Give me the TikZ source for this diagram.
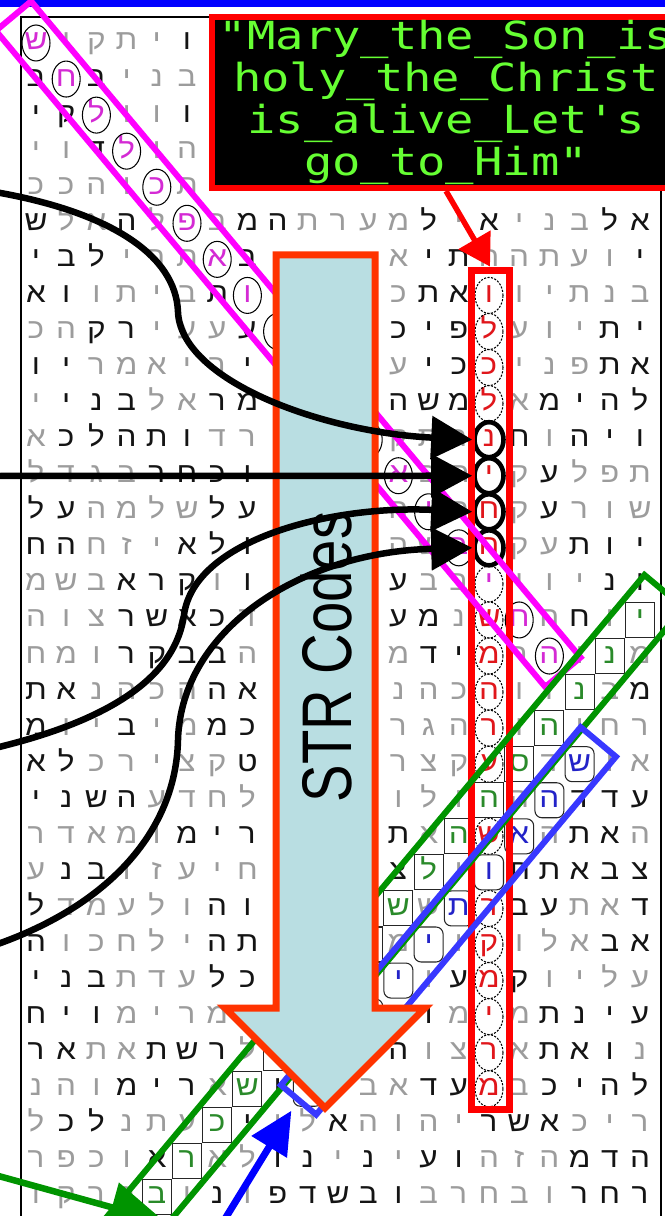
\documentclass[tikz,border=0pt]{standalone}
\usepackage{fontspec}
\usepackage{xcolor}
\usepackage{tikz}
\usetikzlibrary{arrows.meta,shapes.geometric}
\newfontfamily\hebfont[Script=Hebrew,FakeStretch=1.12]{Liberation Sans}
\newfontfamily\quotefont[FakeStretch=1.22,Ligatures=ResetAll]{DejaVu Sans Mono}
\newfontfamily\strfont[FakeStretch=0.8]{Liberation Sans}
\definecolor{inkBlack}{HTML}{141414}
\definecolor{inkGrey}{HTML}{9C9C9C}
\definecolor{codeMagenta}{HTML}{D42AD4}
\definecolor{codeRed}{HTML}{E0161B}
\definecolor{codeGreen}{HTML}{2A8A2A}
\definecolor{codeBlue}{HTML}{2323C8}
\definecolor{frameMagenta}{HTML}{FF00FF}
\definecolor{frameRed}{HTML}{FF0000}
\definecolor{frameGreen}{HTML}{009400}
\definecolor{frameBlue}{HTML}{3838FF}
\definecolor{arrowBlue}{HTML}{0000FF}
\definecolor{strFill}{HTML}{B9DEE2}
\definecolor{strLine}{HTML}{FF3300}
\definecolor{quoteGreen}{HTML}{66FF33}
\definecolor{topBar}{HTML}{0000FF}
\tikzset{
  heb/.style={font=\hebfont\fontsize{16}{16}\selectfont, inner sep=0pt, anchor=base},
  hebk/.style={heb, text=inkBlack},
  hebg/.style={heb, text=inkGrey},
  hebm/.style={heb, text=codeMagenta},
  hebr/.style={heb, text=codeRed},
  hebe/.style={heb, text=codeGreen},
  hebu/.style={heb, text=codeBlue},
  % --- marks round the code letters ---
  ringthin/.style={ellipse, draw=black, line width=0.6pt, minimum width=0.56cm, minimum height=0.72cm, inner sep=0pt},
  ringdot/.style={ringthin, dash pattern=on 1.2pt off 0.8pt},
  ringbold/.style={ellipse, draw=black, line width=2.6pt, minimum width=0.58cm, minimum height=0.7cm, inner sep=0pt},
  cellbox/.style={rectangle, draw=black!85, line width=0.6pt, minimum width=0.58cm, minimum height=0.7cm, inner sep=0pt},
  cellround/.style={cellbox, rounded corners=4pt},
  % --- frames and arrows ---
  gridframe/.style={draw=black, line width=0.6pt},
  codeframe/.style={rectangle, draw=#1, line width=0.12cm, inner sep=0pt},
  strarrow/.style={draw=strLine, fill=strFill, line width=0.14cm},
  strlabel/.style={font=\strfont\fontsize{40}{40}\selectfont, text=black, inner sep=0pt},
  codearrow/.style={-{Triangle[length=0.82cm,width=0.84cm]}, line width=0.13cm, draw=black},
  pointarrow/.style={-{Triangle[length=0.62cm,width=0.72cm]}, line width=0.11cm, draw=frameRed},
  bluearrow/.style={-{Triangle[length=0.85cm,width=0.8cm]}, line width=0.14cm, draw=arrowBlue},
  greenarrow/.style={-{Triangle[length=1.1cm,width=1.0cm]}, line width=0.13cm, draw=frameGreen},
  quotebox/.style={rectangle, draw=frameRed, fill=black, line width=0.12cm, minimum width=9.36cm, minimum height=3.42cm, inner sep=0pt, align=center, text=quoteGreen, font=\quotefont\fontsize{22}{24}\selectfont},
}
\newcommand{\hebrow}[2]{%
  \foreach \ch/\sh [count=\c from 0] in {#2}
    \node[heb\sh] (h-#1-\c) at ({36+30.2*\c},{50+36.06*#1}) {\ch};}

\begin{document}
\begin{tikzpicture}[x=0.02cm,y=-0.02cm]
  \useasboundingbox (0,0) rectangle (665,1216);
  \fill[white] (0,0) rectangle (665,1216);
  \fill[topBar] (0,0) rectangle (665,7);
  \draw[gridframe] (21,1230) -- (21,17) -- (661,17) -- (661,1230);

  % letter grid
  \hebrow{0}{ש/m,י/g,ק/g,ת/g,י/g,ו/k}
  \hebrow{1}{ב/k,ח/m,ב/k,י/g,נ/g,ב/g}
  \hebrow{2}{י/k,ק/k,ל/m,ו/g,ו/g,ו/k}
  \hebrow{3}{י/g,ו/g,ד/k,ל/m,ו/g,ה/g}
  \hebrow{4}{כ/g,כ/g,ה/g,ו/g,כ/m,ת/g}
  \hebrow{5}{ש/k,ל/g,א/g,ה/k,ל/g,פ/m,ב/g,מ/k,ה/k,ת/g,ר/g,ע/g,מ/g,ל/k,י/g,א/k,י/g,נ/g,ב/g,ל/k,א/k}
  \hebrow{6}{י/k,ב/k,ל/k,י/g,ר/g,ת/g,א/m,ב/k,{}/g,{}/g,{}/g,{}/g,א/g,י/k,ת/k,ח/g,ה/g,ת/g,ע/g,ו/g,י/k}
  \hebrow{7}{א/k,ו/k,ו/g,ת/g,י/g,ב/g,ת/k,ו/m,{}/g,{}/g,{}/g,{}/g,כ/g,ת/k,א/k,ו/r,ו/g,י/g,ת/g,נ/g,ב/g}
  \hebrow{8}{כ/g,ה/g,ק/k,ר/k,י/g,ע/g,ע/g,ע/k,{}/g,{}/g,{}/g,{}/g,כ/k,י/k,פ/k,ל/r,ע/g,ו/g,י/g,ת/k,י/k}
  \hebrow{9}{ו/k,י/k,ר/g,מ/g,א/g,י/g,ר/g,י/k,{}/g,{}/g,{}/g,{}/g,ע/g,י/k,כ/k,כ/r,י/g,נ/g,פ/g,ת/k,א/k}
  \hebrow{10}{י/g,י/k,נ/k,ב/k,ל/g,א/g,ר/k,מ/k,{}/g,{}/g,{}/g,{}/g,ה/k,ש/k,מ/k,ל/r,א/g,מ/k,י/k,ה/k,ל/k}
  \hebrow{11}{א/g,כ/k,ל/k,ה/k,ת/k,ו/k,ד/g,ר/g,{}/g,{}/g,{}/g,{}/g,ק/g,ת/g,ר/g,נ/r,ח/k,ו/g,ה/k,י/k,ו/k}
  \hebrow{12}{ל/g,ד/g,ג/g,ב/g,ר/k,ח/k,כ/k,ו/k,{}/g,{}/g,{}/g,{}/g,א/m,ב/g,ת/g,י/r,ק/g,ע/k,ל/g,פ/g,ת/g}
  \hebrow{13}{ל/k,ע/k,ה/g,מ/g,ל/g,ש/g,ל/k,ע/k,{}/g,{}/g,{}/g,{}/g,ה/g,י/m,ח/g,ח/r,ק/g,ע/k,ר/g,ו/g,ש/g}
  \hebrow{14}{ח/k,ה/k,ח/g,ז/g,י/g,א/k,ל/k,ו/k,{}/g,{}/g,{}/g,{}/g,ה/g,ש/g,ב/m,ח/r,ק/g,ע/g,ת/k,ו/k,י/k}
  \hebrow{15}{מ/g,ש/g,ב/g,א/k,ר/k,ק/k,ו/g,ו/k,{}/g,{}/g,{}/g,{}/g,ע/k,ב/g,ב/g,י/m,י/g,ו/g,י/g,נ/k,ו/k}
  \hebrow{16}{ה/g,ו/g,צ/g,ר/k,ש/k,א/k,כ/k,ד/g,{}/g,{}/g,{}/g,{}/g,ע/k,מ/k,נ/g,ש/r,ח/m,ה/g,ח/k,ו/g,י/e}
  \hebrow{17}{ח/g,מ/g,ו/g,ר/k,ק/k,ב/k,ב/k,ה/g,{}/g,{}/g,{}/g,{}/g,מ/g,ד/k,י/k,מ/r,ר/g,ה/m,ו/g,נ/e,מ/g}
  \hebrow{18}{ת/k,א/k,נ/g,ה/g,כ/g,ה/g,ה/k,א/k,{}/g,{}/g,{}/g,{}/g,נ/g,ה/g,כ/g,ה/r,ו/g,ז/g,נ/e,ב/g,מ/k}
  \hebrow{19}{מ/k,ו/g,י/g,ב/k,י/g,מ/g,מ/k,כ/k,{}/g,{}/g,{}/g,{}/g,ר/g,ג/g,ה/g,ר/r,ו/g,ה/e,ו/g,ח/g,ר/g}
  \hebrow{20}{א/k,ל/k,כ/g,ר/g,י/g,צ/g,ק/g,ט/k,{}/g,{}/g,{}/g,{}/g,ר/g,צ/g,ק/g,ע/r,ס/e,ד/g,ש/u,ו/g,א/g}
  \hebrow{21}{י/k,נ/k,ש/k,ה/k,ע/g,ד/g,ח/g,ל/g,{}/g,{}/g,{}/g,{}/g,ו/g,ל/g,ו/g,ה/e,ה/g,ה/u,ד/k,ד/k,ע/k}
  \hebrow{22}{ר/g,ד/g,א/g,מ/g,ו/g,מ/k,י/k,ר/k,{}/g,{}/g,{}/g,{}/g,ת/k,א/g,ה/e,ש/r,א/u,ה/g,ת/k,א/k,ה/g}
  \hebrow{23}{ע/g,נ/k,ב/k,ו/g,ז/g,ע/g,י/g,ח/g,{}/g,{}/g,{}/g,{}/g,צ/k,ל/e,ו/g,ו/u,ת/k,ת/k,א/k,ב/k,צ/k}
  \hebrow{24}{ל/k,ד/g,מ/g,ע/g,ל/g,ו/g,ה/k,ו/k,{}/g,{}/g,{}/g,{}/g,ש/e,ש/g,ת/u,ר/r,ב/k,ע/k,ת/g,א/g,ד/k}
  \hebrow{25}{ה/k,ו/g,כ/g,ח/g,ל/g,י/g,ה/k,ת/k,{}/g,{}/g,{}/g,{}/g,מ/g,י/u,ו/g,ק/r,ו/g,ל/g,א/g,ב/k,א/k}
  \hebrow{26}{י/k,נ/k,ב/k,ת/g,ד/g,ע/g,ל/k,כ/k,{}/g,{}/g,{}/g,{}/g,י/u,ו/g,ע/k,מ/r,ק/k,ו/g,י/g,ל/g,ע/g}
  \hebrow{27}{ח/k,י/k,ו/k,מ/g,י/g,ר/g,מ/g,{}/g,{}/g,{}/g,{}/g,{}/g,{}/g,ו/k,מ/g,י/r,מ/g,ת/k,נ/k,י/k,ע/k}
  \hebrow{28}{ר/k,א/k,ת/g,א/g,ת/k,ש/k,ר/k,ל/g,{}/g,{}/g,{}/g,{}/g,ה/k,ו/g,צ/g,ר/r,א/g,ת/k,א/k,ו/k,נ/g}
  \hebrow{29}{נ/g,ה/g,ו/g,מ/k,י/k,ר/k,א/g,ש/e,ו/k,{}/g,{}/g,ב/g,א/g,ד/k,ע/k,מ/r,ב/g,כ/k,י/k,ה/k,ל/k}
  \hebrow{30}{ל/g,כ/k,ל/k,נ/g,ת/g,ע/g,כ/e,י/k,ו/g,ל/g,א/k,ה/g,ו/g,ה/g,י/g,ר/k,ש/k,א/k,כ/g,י/g,ר/g}
  \hebrow{31}{ר/g,פ/g,כ/g,ו/g,א/k,ר/e,א/g,ל/g,ו/k,נ/k,י/g,נ/k,י/g,ע/k,ו/k,ה/g,ז/g,ה/g,מ/k,ד/k,ה/k}
  \hebrow{32}{ו/g,ק/g,ר/g,ר/g,ב/e,ו/g,נ/k,ו/g,פ/k,ד/k,ש/k,ב/k,ו/k,ב/g,ר/g,ח/g,ב/g,ו/g,ר/k,ח/k,ר/k}

  % rings and boxes
  \foreach \r in {0,...,14,16,17}
    \node[ringthin] (ring-\r) at ({36+30.2*\r},{43+36.06*\r}) {};
  \foreach \r in {7,8,9,10,15,16,17,18,19,20,22,24,25,26,27,28,29}
    \node[ringdot] (dot-\r) at ({36+30.2*15},{43+36.06*\r}) {};
  \foreach \r in {11,...,14}
    \node[ringbold] (bold-\r) at ({36+30.2*15},{43+36.06*\r}) {};
  \foreach \r in {16,...,32}
    \node[cellbox] (gbox-\r) at ({36+30.2*(36-\r)},{43+36.06*\r}) {};
  \foreach \r in {20,...,29}
    \node[cellround] (bbox-\r) at ({36+30.2*(38-\r)},{43+36.06*\r}) {};

  % frames
  \node[codeframe=frameRed, line width=0.14cm, minimum width=0.76cm, minimum height=16.8cm] (redcol) at (490,690) {};
  \node[codeframe=frameMagenta, minimum width=17.12cm, minimum height=0.92cm, rotate=-50.06] (magframe) at (288.2,344.1) {};
  \node[codeframe=frameGreen, minimum width=18.62cm, minimum height=1.02cm, rotate=50.06] (greenframe) at (365.2,948.1) {};
  \node[codeframe=frameBlue, minimum width=9.34cm, minimum height=0.92cm, rotate=50.06] (blueframe) at (448.4,920.9) {};

  % big arrow
  \draw[strarrow] (276,255) -- (375,255) -- (375,1008) -- (425,1008) -- (325,1108) -- (225,1008) -- (276,1008) -- cycle;
  \node[strlabel, rotate=90] (strtext) at (326,657) {STR Codes};

  % arrows into the four rings
  \coordinate (in-11) at (-5,192);
  \coordinate (in-12) at (-5,476);
  \coordinate (in-13) at (-5,748);
  \coordinate (in-14) at (-5,945);
  \draw[codearrow] (in-11) .. controls (110,212) and (176,255) .. (178,312) .. controls (181,380) and (320,432) .. (bold-11.west);
  \draw[codearrow] (in-12) -- (bold-12.west);
  \draw[codearrow] (in-13) .. controls (120,718) and (176,672) .. (184,615) .. controls (194,540) and (330,505) .. (bold-13.west);
  \draw[codearrow] (in-14) .. controls (110,905) and (176,830) .. (178,740) .. controls (181,630) and (300,552) .. (bold-14.west);

  \coordinate (blue-foot) at (212,1240);
  \draw[bluearrow, shorten >=0.2cm] (blue-foot) -- (blueframe.west);
  \coordinate (green-foot) at (-5,1175);
  \coordinate (green-tip) at (165,1222);
  \draw[greenarrow] (green-foot) -- (green-tip);

  % callout
  \node[quotebox] (quote) at (446,102.5) {"Mary\_the\_Son\_is\\holy\_the\_Christ\\is\_alive\_Let's\\go\_to\_Him"};
  \draw[pointarrow] (quote.south) -- (redcol.north);
\end{tikzpicture}
\end{document}
